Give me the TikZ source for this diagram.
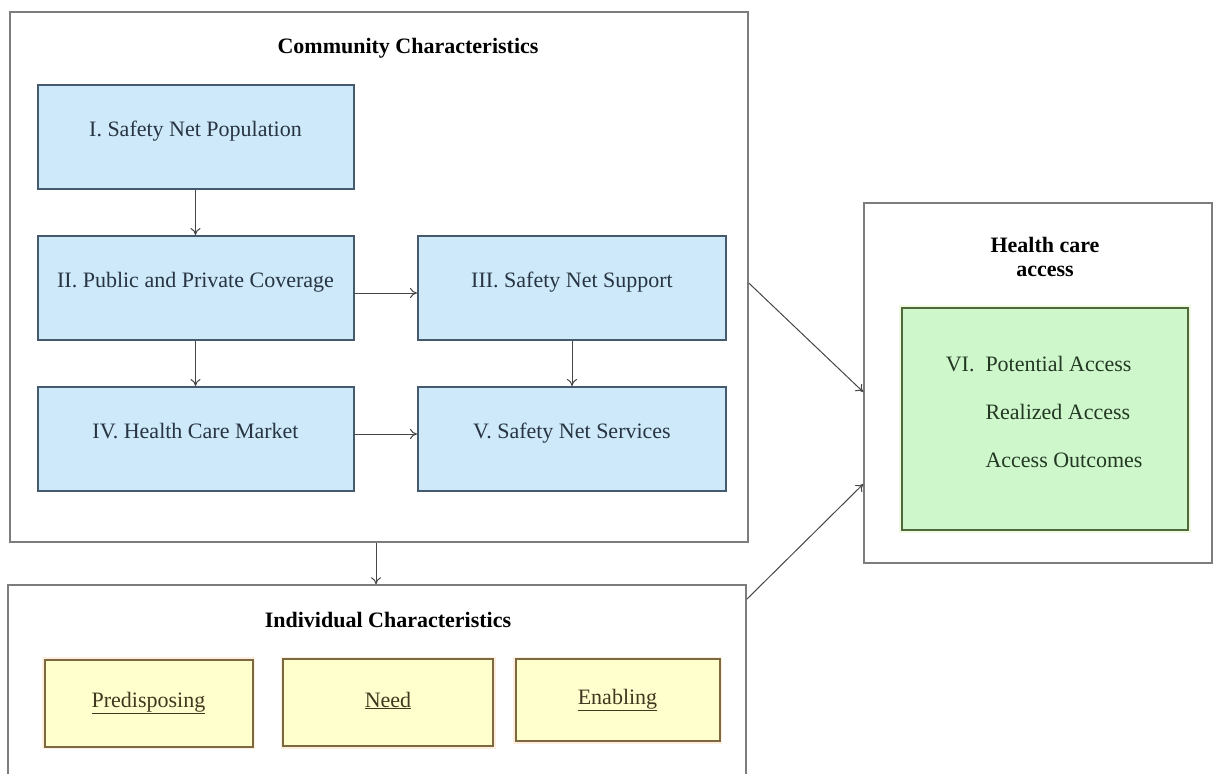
\documentclass[tikz,border=0pt]{standalone}
\usepackage{fontspec}
\setmainfont{Liberation Serif}
\usetikzlibrary{arrows.meta}
\definecolor{framegray}{RGB}{125,125,125}
\definecolor{linkgray}{RGB}{70,70,70}
\definecolor{bluefill}{RGB}{205,233,250}
\definecolor{blueedge}{RGB}{70,90,110}
\definecolor{bluetext}{RGB}{40,52,65}
\definecolor{greenfill}{RGB}{206,248,204}
\definecolor{greenedge}{RGB}{80,105,60}
\definecolor{greenglow}{RGB}{240,250,224}
\definecolor{greentext}{RGB}{35,55,35}
\definecolor{yellowfill}{RGB}{255,255,206}
\definecolor{yellowedge}{RGB}{125,105,65}
\definecolor{yellowglow}{RGB}{253,238,222}
\definecolor{yellowtext}{RGB}{65,55,30}
\tikzset{region box/.style={
    draw=framegray,
    line width=1.5pt,
    inner sep=0pt
  },
  heading/.style={
    font=\fontsize{22}{24}\selectfont\bfseries,
    align=center,
    inner sep=0pt
  },
  blue box/.style={
    draw=blueedge, fill=bluefill,
    line width=2pt,
    minimum width=#1,
    minimum height=104pt,
    text=bluetext,
    text height=16pt, text depth=17pt,
    inner sep=0pt
  },
  blue box/.default=316pt,
  green box/.style={
    draw=greenedge, fill=greenfill,
    line width=2pt,
    preaction={draw=greenglow, line width=6pt},
    minimum width=286pt,
    minimum height=222pt
  },
  access list/.style={
    font=\fontsize{22}{48}\selectfont,
    align=left,
    text=greentext,
    inner sep=0pt
  },
  yellow box/.style={
    draw=yellowedge, fill=yellowfill,
    line width=2pt,
    preaction={draw=yellowglow, line width=5pt},
    minimum width=#1,
    minimum height=87pt,
    text=yellowtext,
    text height=15pt, text depth=6pt,
    inner sep=0pt
  },
  yellow box/.default=208pt,
  link/.style={
    draw=linkgray,
    line width=1pt,
    -{To[length=7pt,width=10pt]}
  }
}
\begin{document}
\begin{tikzpicture}[x=1pt,y=-1pt,font=\fontsize{22}{26}\selectfont]
        \useasboundingbox (0,0) rectangle (1214,773);
        \node[region box, minimum width=738pt, minimum height=530pt] (Community) at (379,277) {};
        \node[region box, minimum width=738pt, minimum height=205pt] (Individual) at (377,687.5) {};
        \node[region box, minimum width=348pt, minimum height=360pt] (Health) at (1038,383) {};
        \node[heading] (CommunityTitle) at (408,48) {Community Characteristics};
        \node[heading] (IndividualTitle) at (388,620) {Individual Characteristics};
        \node[heading] (HealthTitle) at (1045,257) {Health care\\access};

        \node[blue box] (Population) at (195.5,137) {I. Safety Net Population};
        \node[blue box] (Coverage) at (195.5,288) {II. Public and Private Coverage};
        \node[blue box=308pt] (Support) at (572,288) {III. Safety Net Support};
        \node[blue box] (Market) at (195.5,439) {IV. Health Care Market};
        \node[blue box=308pt] (Services) at (572,439) {V. Safety Net Services};

        \node[green box] (Access) at (1045,419) {};
        \node[access list] (AccessList) at (1064,412) {\llap{VI.\ \ }Potential Access\\Realized Access\\Access Outcomes};

        \node[yellow box] (Predisposing) at (148.5,703) {\underline{Predisposing}};
        \node[yellow box=210pt] (Need) at (388,702.5) {\underline{Need}};
        \node[yellow box=204pt, minimum height=82pt] (Enabling) at (617.5,700) {\underline{Enabling}};

        \draw[link] (Population) -- (Coverage);
        \draw[link] (Coverage) -- (Market);
        \draw[link] ([yshift=-5pt]Coverage.east) -- ([yshift=-5pt]Support.west);
        \draw[link] (Support) -- (Services);
        \draw[link] ([yshift=5pt]Market.east) -- ([yshift=5pt]Services.west);
        \draw[link] ([xshift=-3pt]Community.south) -- ([xshift=-3pt]Community.south |- Individual.north);
        \draw[link] ([yshift=-6pt]Community.east) -- ([yshift=-9pt]Health.west);
        \draw[link] ([yshift=-15pt]Individual.north east) -- ([yshift=-101pt]Health.west);
\end{tikzpicture}
\end{document}
